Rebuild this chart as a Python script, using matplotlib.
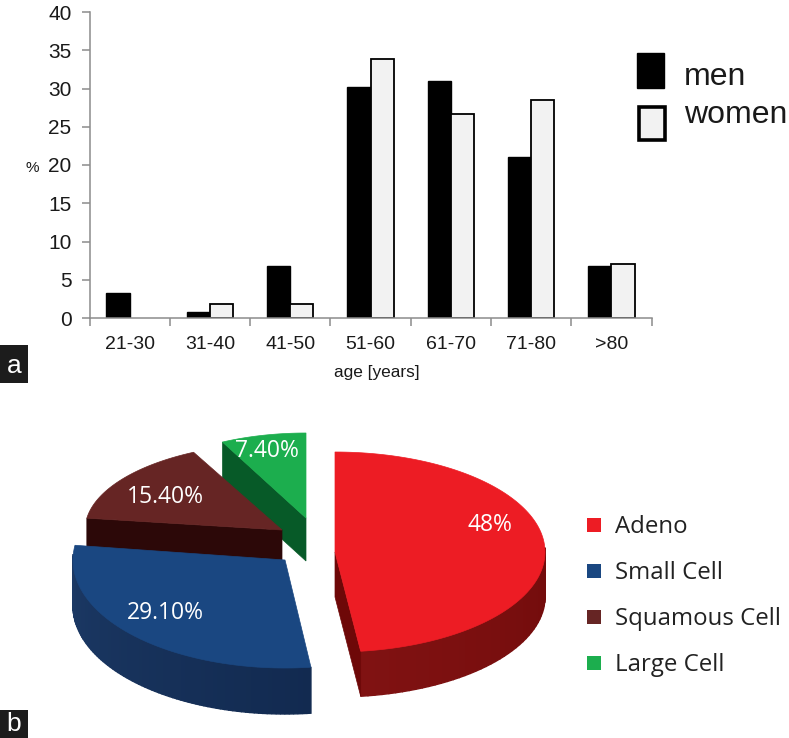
import numpy as np
import matplotlib
matplotlib.use("Agg")
import matplotlib.pyplot as plt
from matplotlib.patches import Polygon, Rectangle
from matplotlib.colors import to_rgb

# ---- data ----
age_groups = ["21-30", "31-40", "41-50", "51-60", "61-70", "71-80", ">80"]
men = [3.3, 0.8, 6.8, 30.2, 31.0, 21.0, 6.8]
women = [0, 1.8, 1.8, 33.9, 26.7, 28.5, 7.1]
yticks = [0, 5, 10, 15, 20, 25, 30, 35, 40]
types = ["Adeno", "Small Cell", "Squamous Cell", "Large Cell"]
shares = [48, 29.1, 15.4, 7.4]
share_labels = ["48%", "29.10%", "15.40%", "7.40%"]

W, H = 789, 738
fig = plt.figure(figsize=(W / 100, H / 100), dpi=100, facecolor="white")
SANS = ["Liberation Sans", "DejaVu Sans"]
HUM = ["Open Sans", "DejaVu Sans"]

# ---- panel a ----
L, R, T, B = 89.5, 651.5, 12, 318
ax = fig.add_axes([L / W, 1 - B / H, (R - L) / W, (B - T) / H])
x = np.arange(len(age_groups)) + 0.5
bw = 0.29
ax.bar(x - bw / 2, men, bw, color="black", edgecolor="black", linewidth=1)
ax.bar(x + bw / 2, women, bw, color="#f2f2f2", edgecolor="black", linewidth=1.3)
ax.patches[7].set_visible(False)  # the zero-height women bar
ax.set_xlim(0, len(age_groups))
ax.set_ylim(0, 40)
ax.patch.set_alpha(0)
for s in ("top", "right"):
    ax.spines[s].set_visible(False)
for s in ("left", "bottom"):
    ax.spines[s].set_color("#8c8c8c")
    ax.spines[s].set_linewidth(1.1)
ax.set_yticks(yticks)
ax.set_xticks(np.arange(len(age_groups) + 1))
ax.set_xticklabels([])
ax.set_xticks(x, minor=True)
ax.set_xticklabels(age_groups, minor=True, fontsize=14, family=SANS, color="#1a1a1a")
ax.tick_params(axis="x", which="minor", length=0, pad=13)
ax.tick_params(axis="x", which="major", length=5.5, color="#8c8c8c", width=1.1)
ax.tick_params(axis="y", length=6, color="#8c8c8c", width=1.1, pad=7)
for t in ax.get_yticklabels():
    t.set_fontsize(15); t.set_family(SANS); t.set_color("#1a1a1a")

# overlay in image pixels
ov = fig.add_axes([0, 0, 1, 1], zorder=5)
ov.set_xlim(0, W); ov.set_ylim(H, 0); ov.axis("off")

ov.text(32, 168, "%", fontsize=11, family=SANS, ha="center", va="center", color="#1a1a1a")
ov.text(377, 372, "age [years]", fontsize=12.4, family=SANS, ha="center", va="center", color="#1a1a1a")
ov.add_patch(Rectangle((637, 53), 27, 35, fc="black", ec="black", lw=1))
ov.add_patch(Rectangle((639, 107), 26, 33, fc="#f2f2f2", ec="black", lw=2.6))
ov.text(684, 77, "men", fontsize=23, family=SANS, va="center", color="#1a1a1a")
ov.text(684, 115, "women", fontsize=23, family=SANS, va="center", color="#1a1a1a")

# panel tags
for (bx, by, bw_, bh, s, dy) in [(0, 345, 28, 38, "a", 2), (0, 710, 28, 28, "b", 0)]:
    ov.add_patch(Rectangle((bx, by), bw_, bh, fc="#1c1c1c", ec="none"))
    ov.text(bx + 14, by + bh / 2 + dy, s, color="white", fontsize=19, family=SANS, ha="center", va="center")


# ---- panel b: extruded pie, angles from the shares ----
def rim(cx, cy, rx, ry, a0, a1, n=120):
    t = np.radians(np.linspace(a0, a1, n))
    return np.c_[cx + rx * np.sin(t), cy - ry * np.cos(t)]


def shade(c0, c1, f):
    return tuple(np.array(to_rgb(c0)) * (1 - f) + np.array(to_rgb(c1)) * f)


geom = [  # cx, cy, rx, ry, depth
    (335, 552, 210, 100, 45),
    (285, 560, 212, 108, 46),
    (282, 530, 197, 87, 45),
    (306, 518, 186, 85, 43),
]
top_col = ["#ed1c24", "#1a4781", "#662524", "#1cae4e"]
wall_a = ["#801212", "#1c3a66", "#2c0808", "#0f7a38"]
wall_b = ["#640404", "#122a50", "#2c0808", "#0f7a38"]
cut_col = ["#6e0808", "#12294d", "#2c0808", "#075a28"]

angles = np.r_[0, np.cumsum(shares)] / sum(shares) * 360
for i in [3, 2, 1, 0]:
    cx, cy, rx, ry, d = geom[i]
    a0, a1 = angles[i], angles[i + 1]
    arc = rim(cx, cy, rx, ry, a0, a1)
    pts = rim(cx, cy, rx, ry, a0, a1, 90)
    for j in range(len(pts) - 1):
        th = np.radians(a0 + (a1 - a0) * j / 89)
        if np.cos(th) > 0.05:
            continue
        col = shade(wall_a[i], wall_b[i], 1 - j / 88)
        q = [pts[j], pts[j + 1], pts[j + 1] + [0, d], pts[j] + [0, d]]
        ov.add_patch(Polygon(q, fc=col, ec=col, lw=1))
    apex = np.array([cx, cy])
    if i == 0:
        e = arc[-1]
        ov.add_patch(Polygon([apex, e, e + [0, d], apex + [0, d]], fc=cut_col[i], ec=cut_col[i], lw=0.5))
    if i in (2, 3):
        ov.add_patch(Polygon([arc[0], apex, apex + [0, d], arc[0] + [0, d]], fc=cut_col[i], ec=cut_col[i], lw=0.5))
    ov.add_patch(Polygon(np.r_[[apex], arc], fc=top_col[i], ec=top_col[i], lw=0.5))

label_pos = [(490, 525), (165, 613), (165, 497), (267, 451)]
for s, (lx, ly) in zip(share_labels, label_pos):
    ov.text(lx, ly, s, color="white", fontsize=16.5, family=HUM, ha="center", va="center")

leg_y = [525, 571, 617, 663]
for n, c, y in zip(types, top_col, leg_y):
    ov.add_patch(Rectangle((587, y - 7), 14, 14, fc=c, ec="none"))
    ov.text(615, y + 2, n, fontsize=17.3, family=HUM, va="center", color="#222222")

fig.savefig("out.png", dpi=100)
